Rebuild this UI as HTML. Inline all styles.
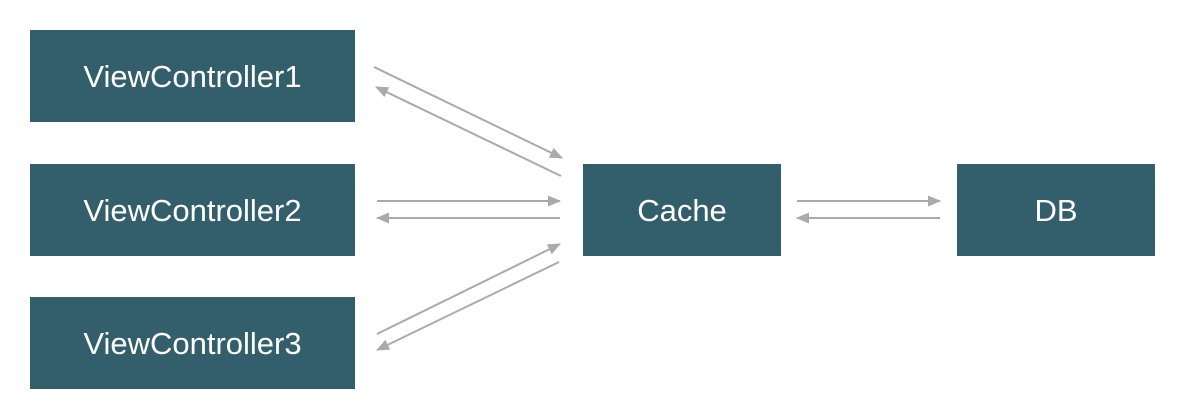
<!DOCTYPE html>
<html><head><style>
body{margin:0;width:1199px;height:413px;background:#fff;overflow:hidden;position:relative;font-family:"Liberation Sans",Helvetica,sans-serif}
.b{position:absolute;background:#335e6b;color:#fff;font-size:31px;display:flex;align-items:center;justify-content:center;height:92px;padding-top:2px;box-sizing:border-box}
svg{position:absolute;left:0;top:0}
</style></head><body>
<div class="b" style="left:30px;top:30px;width:325px">ViewController1</div>
<div class="b" style="left:30px;top:164px;width:325px">ViewController2</div>
<div class="b" style="left:30px;top:297px;width:325px">ViewController3</div>
<div class="b" style="left:583px;top:164px;width:198px">Cache</div>
<div class="b" style="left:957px;top:164px;width:198px">DB</div>
<svg width="1199" height="413">
<defs><marker id="a" markerWidth="13" markerHeight="11" refX="12" refY="5.5" orient="auto" markerUnits="userSpaceOnUse"><path d="M0,0L13,5.5L0,11z" fill="#aaa"/></marker></defs>
<g stroke="#aaa" stroke-width="2" marker-end="url(#a)" fill="none">
<line x1="374" y1="67" x2="562" y2="158"/>
<line x1="561" y1="176" x2="376" y2="87"/>
<line x1="377" y1="201" x2="560" y2="201"/>
<line x1="560" y1="218" x2="377" y2="218"/>
<line x1="377" y1="334" x2="560" y2="244"/>
<line x1="559" y1="262" x2="377" y2="350"/>
<line x1="797" y1="201" x2="940" y2="201"/>
<line x1="940" y1="218" x2="797" y2="218"/>
</g></svg>
</body></html>
